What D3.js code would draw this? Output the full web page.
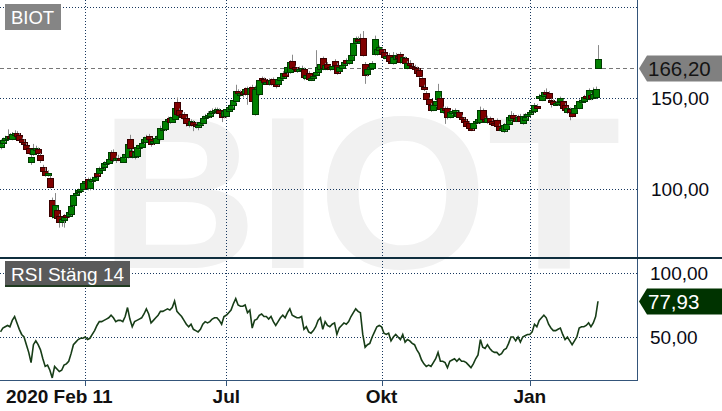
<!DOCTYPE html>
<html><head><meta charset="utf-8">
<script src="https://cdn.jsdelivr.net/npm/d3@7"></script>
<style>body{margin:0;background:#fff;} svg{display:block;font-family:"Liberation Sans",Arial,sans-serif;}</style>
</head><body><svg id="c" width="722" height="411"></svg>
<script>
// ---- data (daily candles, 2020-02-11 .. 2021-02-11) ----
const opens=[
123,125,126.5,127.5,129,127.5,130,130.5,129.5,127,
125.5,124,122,114.5,119,121.5,121.5,118.5,112,109.5,
108,106,93.5,84.5,88,85,81.5,83,85.5,85,
86,91,96.5,98,99,99.5,103,105,100,104,
105,108.5,108.5,111,112,113.5,114,116,120,115.5,
116.5,116.5,115,117.5,117.5,127,120.5,117,118,122.5,
123,125.5,126,129,127,125,125.5,128,127.5,133,
132.5,137,138.5,137,138.5,147.5,143,141,141,138.5,
136,135,136.5,135.5,134.5,135,136,139,139.5,140,
141.5,142,142.5,143,141.5,139.5,139.5,143,144,145.5,
148,153.5,152,153,152.5,155,151.5,156,141,154.5,
152,160.5,160,158.5,159.5,157.5,160,157.5,157.4,160,
160.5,163.5,163.5,164,170,166.5,165.5,165,165.5,165.5,
161,163.5,160,161,162.5,164,166,171.5,166,168.5,
166.5,166,170,168,164.5,166.5,168,170.5,169,171,
173.3,180,182,180.2,182.7,168.5,162.5,166,166.2,174,
174,176,176.5,175,172.5,173.5,170,169,171.5,173,
174,169.5,171.5,166.5,169,167.5,167,166.2,165,160.5,
156,152.7,149,146,143.5,146,149.2,149.7,142,144,
144.2,139.5,141.5,142,140,142,139.5,138,137,136,
133,133,136,136.5,136.5,143,138,137,138.7,137,
136,137.5,134.5,132,131.6,132.5,135.5,137.5,140.5,139,
137.5,140,136,138,139.8,141,142,142.6,145.5,149.7,
149,151,153,152.5,148.6,148,146.5,146.5,148,148,
145.9,142,143.5,141.5,142,144.5,144.2,147.5,148.5,150.8,
149.2,151.4,150,150.3,166.2];
const closes=[
125,126.5,127.5,129,128.5,130,130.5,129,127,125.5,
124.5,122,119.5,117.5,121.5,122,119.5,115.5,110,107.5,
108.5,101,84.5,91,83.5,81.5,83,84.5,84.8,87,
90.5,96.5,97.5,99,100,103,104,100,104.5,105,
106.5,107,111,111.5,114,114.5,116,120,115.5,116.5,
116.8,115.5,117.5,119,124.5,122,118,120,123,124,
125,127,128.5,127.5,124.5,126,128,129,133.5,133.5,
137,138,136.5,139.5,144.5,141,140.5,139.5,138.7,136,
135,137,135,134.5,134.8,136.5,139,140,140.5,141.5,
142.5,143,143.5,141.5,139.5,142.5,143.5,145,146,148.5,
153.5,152.5,152.5,152.5,154.5,151.5,155,148.5,154.5,155.5,
159.5,159.8,158.5,158.7,157.5,159.5,157.5,156.5,160,161.5,
163.5,162,166.5,169.5,166,165.5,165,165.5,166,161,
162.5,160,160.5,162,164,167,168.5,166,168,166.5,
166,167.5,168,163.5,166.5,168,169.5,169,170.5,173.5,
180,182.5,181,181,173.5,162.5,165.5,166.5,169,182,
176.5,177.5,173.5,172.5,173,170,169.5,172.5,173.5,172,
169.5,172,168.5,169,168,167,166.5,163.5,161.8,156,
155,149.5,146,143,146,148,153.5,143.7,144,143,
139,142,142.5,143,141.5,139,138.5,136.5,134.5,133,
132.5,136,137,138,143,138,137.5,139,136.5,135.5,
135,134,132.5,133,135,135.5,139.5,140.5,139,137.5,
139.5,137.5,140,139.5,141,142,143,146,145,150.8,
151.5,153,152,149.5,147.5,146.5,146.8,147.5,149.5,144,
143.1,144,142,140,144.5,146,148,148.5,150.5,149.5,
154,149.8,152,154.7,171];
const highs=[
127,128,129,132.5,130.5,131,132,131.5,130.5,128,
127,125,123,118.5,124.5,123.5,122.5,119.5,113,111.5,
110,107,95,97.5,89.5,86,84,86,87,90,
91.5,97.5,99,100,101,104,105.5,106,106,106.5,
108,109.5,112,113,115,116,117,121,121.5,118,
118.5,117.5,119,120,125.5,129.5,121.5,121,124,125,
126,128.5,129.5,130,128,127.5,129,130,134.5,135,
138,139.5,139.5,140.5,145.5,150,144,142,142,139.5,
137,138,137.5,136.5,136,137.5,140,141,142.5,143,
144,144.5,144.5,144,142.5,143.5,144.5,146,147,149.5,
157,154.5,154,154.5,155.5,156,156,157,156.5,156.5,
160.5,161.5,161,160,160.5,160.5,161,158.5,161,162.5,
164.5,165,167.5,170.5,173.5,167.5,166.5,167,167.5,166.5,
163.5,164.5,162,163.5,176,168,169.5,172.5,169,169.5,
167.5,168.5,171,169,167.5,169,170.5,171.5,171.5,174.5,
181,183.5,183.5,185,186.5,169.5,166.5,168,170,184,
177.5,178.5,177.5,176,174,174.5,171,175,174.5,174,
175,173,172.5,170,170.5,168.5,168,167,166,161.5,
157,153.5,150,147,147,149,157.5,150.5,145,145,
145,143,143.5,144,142.5,143,140.5,139,138,137,
134,137,138,139,145,144,139,140,139.5,138,
137,138.5,135.5,134,136,136.5,140.5,142.5,141.5,140,
140.5,141,141,141.5,142,143,144,147,146.5,152,
152.5,154,155,153.5,149.5,149,148,148.5,150.5,149,
147,145,144.5,142.5,145.5,147,149,150,151.5,152,
155,152.5,155.5,156,178.8];
const lows=[
121.5,124,125.5,126.5,127.5,126.5,128.5,127.5,125.5,124,
123,120.5,118.5,113,118,120,118,114,109,106.5,
106.5,100,83.5,83.5,81.5,78.5,79,78.5,83.5,84,
85,90,95.5,97,98,98.5,102,99,99,103,
104,106,107.5,110,111,112.5,113,115,114.5,114,
115,114,114,116.5,116.5,121,116.5,116,117,121.5,
122,124.5,125,126.5,123,124,124.5,127,126.5,132,
131.5,136,135.5,136,137.5,140,139.5,138,137,134,
133.5,134,131.5,133,132,134,135,138,138.5,139,
140.5,141,141.5,140.5,136.5,138.5,138.5,142,143,144.5,
147,151.5,150.5,150,151,146,150.5,147.5,140,153,
151,158.5,157,157.5,156.5,156.5,156,155,156.5,159,
159.5,161,162.5,163,165,164.5,163.5,164,164,159.5,
160,159,159,160,161.5,163,165,165,165,165,
164.5,165,167,162.5,163.5,165.5,167,168,168,170,
172.5,179,180,179,172.5,157.5,161.5,165,165.5,173,
173,175,172.5,171,171.5,169,168.5,168,170.5,171,
168.5,168.5,167.5,165.5,167,166,165.5,162.5,160.5,155,
153.5,148.5,145,142,142.5,145,148.5,142.5,141,135.5,
138,138.5,140.5,141,139,138,137.5,135.5,133.5,132,
131.5,132,135,135.5,135.5,137,136.5,135.5,135.5,134.5,
134,133,131.5,131,130.5,131.5,134.5,136.5,138,136.5,
136.5,136.5,135,137,138.5,140,141,141.5,144,148.5,
148,150,151,148.5,144.5,145.5,145.5,145.5,147,143,
142,141,137.5,139,141,143.5,143.5,146.5,147.5,148.5,
148.5,148.5,149,149.5,165.8];
const rsi=[
54,57,58,59,58,63,66,61,56,52,
50,44,38,30,44,47,44,40,33,27,
28,24,18,27,25,23,24,28,29,31,
37,44,46,48,49,49,50,48,49,52,
55,59,62,62,63,64,65,67,65,62,
63,63,62,66,73,64,58,62,63,64,
65,68,72,68,61,63,65,67,70,70,
71,72,71,73,78,70,68,66,63,60,
58,60,56,55,54,56,60,62,61,62,
64,65,65,63,60,66,67,69,71,76,
80,75,74,74,75,69,71,57,63,64,
67,68,66,66,64,66,62,59,62,65,
67,65,69,72,67,66,65,65,66,56,
58,54,53,55,58,63,65,56,62,59,
58,60,61,52,57,59,61,60,62,66,
69,72,70,69,52,42,44,45,50,54,
58,59,58,53,52,53,47,50,52,50,
48,52,46,48,47,45,44,40,37,32,
29,27,28,27,30,33,38,31,31,30,
26,31,32,33,31,33,31,31,30,28,
26,29,33,36,48,42,41,44,41,39,
38,38,36,37,40,41,45,50,50,47,
50,46,50,51,52,52,54,60,58,63,
65,67,65,60,57,55,55,56,57,52,
48,50,47,44,47,50,57,58,58,59,
61,58,61,66,77.93];
const lastPrice=166.20;
const priceGrid=[100,150,200];
const priceLabels=[100,150];
const rsiGrid=[50,100];
const monthTicks=[36,96,162,225];
const monthLabels=["","Jul","Okt","Jan"];
const startLabel="2020 Feb 11";
const title="BIOT";
const rsiTitle="RSI Stäng 14";

// ---- drawing ----
const fmt=v=>d3.format(".2f")(v).replace(".",",");
const svg=d3.select("#c");
const plotR=637, sepY=258, botY=380;
const gridCol="#17375e", borderCol="#34557a";
const n=closes.length;
const x=d3.scaleLinear().domain([0,n-1]).range([0.5,598]);
const y=d3.scaleLinear().domain([100,150]).range([188.5,97.5]);
const yr=d3.scaleLinear().domain([50,100]).range([337,273]);

svg.append("rect").attr("width",722).attr("height",411).attr("fill","#fff");

const defs=svg.append("defs");
defs.append("clipPath").attr("id","cp1").append("rect").attr("x",0).attr("y",0).attr("width",plotR).attr("height",sepY-1);
defs.append("clipPath").attr("id","cp2").append("rect").attr("x",0).attr("y",sepY+1).attr("width",plotR).attr("height",botY-sepY-1);

// watermark
svg.append("text").attr("x",100).attr("y",268).attr("font-size",218).attr("font-weight","bold")
  .attr("fill","#f1f1f1").text(title);

// vertical grid
svg.append("g").selectAll("line").data(monthTicks).join("line")
  .attr("x1",d=>Math.round(x(d))+0.5).attr("x2",d=>Math.round(x(d))+0.5)
  .attr("y1",0).attr("y2",botY).attr("stroke",gridCol).attr("stroke-dasharray","1,2");
// horizontal grid price
svg.append("g").selectAll("line").data(priceGrid).join("line")
  .attr("x1",0).attr("x2",plotR).attr("y1",d=>Math.round(y(d))+0.5).attr("y2",d=>Math.round(y(d))+0.5)
  .attr("stroke",gridCol).attr("stroke-dasharray","1,2");
svg.append("g").selectAll("line").data(rsiGrid).join("line")
  .attr("x1",0).attr("x2",plotR).attr("y1",d=>Math.round(yr(d))+0.5).attr("y2",d=>Math.round(yr(d))+0.5)
  .attr("stroke",gridCol).attr("stroke-dasharray","1,2");
// last price dashed line
svg.append("line").attr("x1",0).attr("x2",plotR).attr("y1",Math.round(y(lastPrice))+0.5).attr("y2",Math.round(y(lastPrice))+0.5)
  .attr("stroke","#777").attr("stroke-dasharray","4,3");

// candles
const cg=svg.append("g").attr("clip-path","url(#cp1)");
d3.range(n).forEach(i=>{
  const xc=Math.round(x(i));
  const up=closes[i]>=opens[i];
  cg.append("line").attr("x1",xc+0.5).attr("x2",xc+0.5).attr("y1",y(highs[i])).attr("y2",y(lows[i]))
    .attr("stroke","#8a8a8a");
  const t=y(Math.max(opens[i],closes[i])), b=y(Math.min(opens[i],closes[i]));
  cg.append("rect").attr("x",xc-2.5).attr("y",Math.round(t)+0.5).attr("width",6)
    .attr("height",Math.max(2,Math.round(b-t)))
    .attr("fill",up?"#008000":"#800000").attr("stroke",up?"#003a00":"#3a0000").attr("stroke-width",1);
});

// RSI line
svg.append("path").attr("clip-path","url(#cp2)").datum(rsi)
  .attr("d",d3.line().x((d,i)=>x(i)).y(d=>yr(d)))
  .attr("fill","none").attr("stroke","#173d17").attr("stroke-width",1.6);

// borders
svg.append("line").attr("x1",plotR+0.5).attr("x2",plotR+0.5).attr("y1",0).attr("y2",botY).attr("stroke",borderCol);
svg.append("line").attr("x1",0).attr("x2",plotR+1).attr("y1",botY+0.5).attr("y2",botY+0.5).attr("stroke",borderCol);
svg.append("line").attr("x1",0).attr("x2",722).attr("y1",sepY).attr("y2",sepY).attr("stroke","#0f2e3e").attr("stroke-width",2);

// x ticks + labels
svg.append("g").selectAll("line").data(monthTicks).join("line")
  .attr("x1",d=>Math.round(x(d))+0.5).attr("x2",d=>Math.round(x(d))+0.5)
  .attr("y1",botY).attr("y2",botY+6).attr("stroke",borderCol);
svg.append("g").selectAll("text").data(monthTicks).join("text")
  .attr("x",d=>x(d)).attr("y",403).attr("text-anchor","middle").attr("font-size",19).attr("font-weight","bold")
  .attr("fill","#111").text((d,i)=>monthLabels[i]);
svg.append("text").attr("x",6).attr("y",403).attr("font-size",19).attr("font-weight","bold").attr("fill","#111").text(startLabel);

// right axis labels
const pa=d3.axisRight(y).tickValues(priceLabels).tickFormat(fmt).tickSize(0).tickPadding(14);
const pg=svg.append("g").attr("transform",`translate(${plotR},0)`).call(pa);
const ra=d3.axisRight(yr).tickValues(rsiGrid).tickFormat(fmt).tickSize(0).tickPadding(13);
const rg=svg.append("g").attr("transform",`translate(${plotR},0)`).call(ra);
[pg,rg].forEach(g=>{g.select(".domain").remove();
  g.selectAll("text").attr("font-size",19).attr("font-family","Liberation Sans, Arial, sans-serif").attr("fill","#0a0a14").attr("dy","0.36em");});

function badge(cy,fill,tcol,txt){
  const h=13;
  svg.append("path").attr("d",`M639,${cy} L647,${cy-h} L722,${cy-h} L722,${cy+h} L647,${cy+h} Z`).attr("fill",fill);
  svg.append("text").attr("x",648).attr("y",cy).attr("dy","0.36em").attr("font-size",20.5).attr("fill",tcol).text(txt);
}
badge(Math.round(y(lastPrice))+0.5,"#808080","#141414",fmt(lastPrice));
badge(Math.round(yr(rsi[n-1]))+0.5,"#003300","#fff",fmt(rsi[n-1]));

// title boxes
svg.append("rect").attr("x",5).attr("y",4).attr("width",56).attr("height",26).attr("fill","#858585");
svg.append("text").attr("x",11).attr("y",24).attr("font-size",18.5).attr("fill","#fff").text(title);
svg.append("rect").attr("x",5).attr("y",261).attr("width",125).attr("height",26).attr("fill","#5a5a5a");
svg.append("rect").attr("x",5).attr("y",285).attr("width",125).attr("height",2).attr("fill","#1e3a1e");
svg.append("text").attr("x",11).attr("y",281).attr("font-size",19).attr("fill","#fff").text(rsiTitle);
</script></body></html>
